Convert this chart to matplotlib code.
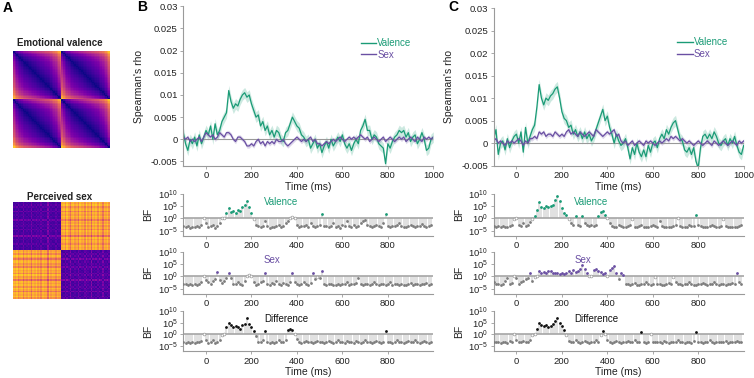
import matplotlib
matplotlib.use("Agg")
import matplotlib.pyplot as plt
import numpy as np
from matplotlib.lines import Line2D

plt.rcParams['font.family'] = ['Liberation Sans', 'DejaVu Sans']
plt.rcParams['font.size'] = 7

# ---------------- data ----------------
# time axis of the RSA curves (ms), 10 ms steps
t_line = list(range(-100, 1001, 10))

# Spearman's rho, in units of 1e-3
b_valence = [1.5, -1, -2.5, 0, -1, 0.5, -1.5, 1, -1, 0.5,
             2, 1, 3, 0, 3.5, 1, 2, 4, 5, 6,
             11, 8.5, 7, 8, 7.5, 9, 10, 10.5, 9.5, 10,
             8, 6.5, 5, 5.5, 3, 4, 2, 3, 1, 2,
             0.5, 2, 1.5, 0, -0.5, 1.5, 2, 3.5, 5, 4,
             3, 2.5, 1, 0.5, -0.5, 0, -2, -1, 0, -2,
             -1, -3, -1.5, -0.5, -2, 0, -1.5, -0.5, 0.5, -0.5,
             1, -1, -2, -1, -2.5, -1, 0, -1, 2, 3,
             4.5, 2, 2, 0, 1, 0.5, -1, -1.5, -2, -5.5,
             -1, -2, -0.5, 0.5, 1, 2, 1.5, 2, 0.5, 1.5,
             -0.5, 0.5, 1, -1, 0, 1.5, 0, -2.5, -2, 0, 0.5]
b_sex = [0.5, 0, 0.5, -0.5, 0, -0.5, 0, 0.5, -0.5, 0.5,
         1.5, 1, 0.5, 1, 0, 0.5, 1.5, 1, 0.5, 1.5,
         1.5, 1, 0, -0.5, 0.5, 0.5, 0, -0.5, -1.5, -1.5,
         -1, -1.5, -0.5, 0, -1, -0.5, -1.5, -0.5, -1, -0.5,
         -1, 0, -0.5, -0.5, 0, -1, -1.5, -1, -0.5, 0,
         0.5, 0, -0.5, 0, -0.5, 0, 0.5, -0.5, 0, -1,
         -1, -1.5, -1, -0.5, -1, -0.5, 0, -0.5, 0, 0.5,
         0, -0.5, 0, 0.5, 0, 0.5, 0, 0.5, 1, 0.5,
         0, 0.5, -0.5, 0, 0.5, 0, -0.5, 0, 0.5, -0.5,
         0, 0.5, 0, -0.5, 0, 0.5, 0, 0.5, -0.5, 0,
         0.5, 0, -0.5, 0.5, 0, -0.5, 0.5, 0, 0.5, 0, 0.5]
c_valence = [1, 3, -2.5, 0, 0.5, -1.5, 1, -1, 0.5, 1.5,
             2, 0, 2.5, -2, 3.5, 0, 1.5, 3, 4, 8,
             13, 10, 8.5, 10, 9.5, 10.5, 11, 12, 12.5, 10,
             7, 5.5, 5, 3.5, 4, 2, 3, 1.5, 2.5, 1,
             2.5, 1, 2, 0.5, 1.5, 3, 4.5, 6, 7.5, 5,
             6, 3.5, 2, 0, 2, 0.5, -0.5, 0, 1, -1,
             -3.5, -1, -2.5, 0, -2, -3, -1.5, -3, -0.5, -2,
             0, 0.5, -1, 1, 2, 1, 3, 2, 3.5, 4.5,
             5, 3, 1, 0.5, -1.5, -2, -1, -2.5, -1, -4,
             -5.5, -1, 1.5, 2, 1, 2, 1, 2.5, 1.5, 0,
             -0.5, 0.5, 1, -0.5, 1, 0, 1.5, -0.5, -2, -2.5, -0.5]
c_sex = [0.5, 1, 0, 0.5, 0, -0.5, 0.5, 0, 0.5, 0,
         0.5, 1, 0.5, -0.5, 0.5, 0, 1, 1, 1.5, 1,
         2.5, 2, 2.5, 1.5, 2, 2, 1.5, 2.5, 2, 1.5,
         2, 1.5, 2.5, 3, 2, 2.5, 2, 1.5, 2.5, 2,
         1.5, 2, 2.5, 2, 1.5, 3, 2.5, 2, 1.5, 2,
         2.5, 2, 2.5, 3, 1.5, 2, 0.5, 0, 0.5, -0.5,
         0, 0.5, -0.5, 0, 0.5, 0, -0.5, 0.5, 0, 0.5,
         0, -0.5, 0, 0.5, 0, 0.5, 1, 0.5, 1.5, 1,
         1.5, 1, 0.5, 1, 0.5, 0, 0.5, 0, -0.5, 0,
         0.5, 0, -0.5, 0, 0.5, 0, -0.5, 0.5, 0, -0.5,
         0, 0.5, 0, -0.5, 0, 0.5, 0, -0.5, 0.5, 0, 0.5]
ci_valence = 1.2  # half width of shaded band (1e-3)
ci_sex = 0.5

# Bayes factors (log10), 10 ms steps
t_bf = list(range(-100, 1000, 10))
b_bf_valence = [-3, -3.5, -3.2, -3.8, -3.5, -3.6, -3, -3.3, -2.5, 0.2,
                -2, -3.5, -3, -2.5, -3.8, -3, -2, 0, 0.3, 2,
                4, 2.5, 3, 2.2, 3.5, 3, 4.5, 5.5, 7, 4.5,
                2, -0.2, -2.5, -3, -3.5, -3.2, -1, -3, -3.8, -3.5,
                -3.6, -3, -2.5, -3.5, -3, -2, -1, 0.2, 0.4, 0.3,
                -2.5, -3.5, -3, -3.2, -2.8, -3.3, -2, -3, -3.5, -3,
                -2.5, 1.7, -3, -3.2, -3.5, -3, -2, -3.3, -3, -3.8,
                -2.5, -3, -1, -3, -3.5, -2.8, -3.4, -3, -2, -1,
                -0.5, -2.5, -3, -3.5, -3, -2.5, -3, -3.5, -2, 1.8,
                -3, -3.5, -3.2, -3, -2.5, -2, -3, -3.5, -3.3, -3,
                -2.5, -3, -3.5, -3.2, -3, -2.2, -3, -3.6, -3, -2.5]
b_bf_sex = [-3, -3.3, -3.5, -3, -3.4, -3.2, -3.5, -3, -2.5, 0.2,
            -1.5, -2.5, -3, -2, -1, 1.8, -1.5, -2.8, -2, -0.5,
            1.5, -0.5, -3, -3.2, -2.5, -3, -3.5, -2, 0.2, 0.4,
            0.1, -2.5, -3.5, -3.2, -2.5, -2, 1.2, -3, -3.5, -2.8,
            -3, -2, -3.3, -3.5, -2.8, -3, -3.4, -2.5, 1.5, -2.5,
            -3, -3.5, -3, -2.5, -3.3, -3.5, -2.8, 1.4, -1, -0.2,
            -0.5, 2, -3, -3.5, -3.2, -3, -3.6, -3.4, -3, -3.5,
            -3.2, -3, -2.5, -3.5, -3, -3.3, -2.8, -0.5, -3, -3.5,
            -3, -3.2, -3.5, -3, -2.5, -3, -3.6, -3.3, -3, -3.4,
            -3, -2.5, -3.5, -3.2, -3, -3.6, -3, -3.4, -3.5, -3,
            -2.8, -3.4, -3, -3.2, -3.5, -3, -3.3, -2.8, -3.5, -3]
b_bf_diff = [-3, -3.5, -3.2, -3.8, -3.3, -3.5, -3, -3.4, -2.8, 0.2,
             -2.5, -3.5, -3, -2.5, -3.5, -3, -2.5, -0.2, 0.3, 3,
             5, 4, 3, 3.5, 3, 2.5, 4, 4.5, 7, 4.5,
             3, 1.5, -0.5, -3, -3.2, -2.5, 1.3, -3, -3.5, -3.2,
             -3.5, -3, -2.5, -3.2, -3, -2.5, 2, 2.2, 1.8, 0.3,
             -2, -3.2, -3.5, -3, -2.8, -3.4, -3, -3.5, -3, -2.8,
             -3.2, -3, -3.5, -3, -2.8, -3.3, -3.5, -3, -2.5, -3.2,
             -3, -3.5, -2.8, -3, -3.4, -3.5, -2.6, -3, -3.5, -3.2,
             -2.5, -3, -3.3, -3.5, -3, -2.8, -3.2, -3.5, -3, 1.5,
             -3, -3.4, -3.5, -3, -2.5, -3, -3.3, -3.5, -3, -2.8,
             -3.3, -3, -2.5, -3.4, -3.5, -3, -2.8, -3.2, -3.5, -3]
c_bf_valence = [-3, -3.5, -3.2, -3.6, -3, -3.4, -3.5, -3, -2.5, -0.2,
                0.1, -2.5, -3, -2, -3, -2.5, -1.5, -0.3, 0.8, 3.5,
                6.5, 4.5, 4, 5, 4.5, 5, 5.5, 7.5, 9, 7,
                4, 2, 1.2, -0.3, -2, -2.5, 1, -2.5, -3, 1,
                -2, -2.5, -3, -2.8, -3.2, -2.5, 1, 2.5, 3, 1.5,
                0.3, -2, -3, -3.5, -3.3, -2.8, -3.2, -3.5, -3.6, -3,
                -2.8, -0.2, -3.4, -3.5, -3, -2.5, -3.3, -3.5, -3.6, -3.2,
                -2.5, -3, -3.3, -1, -3.2, -3.5, -3.4, -3.6, -3.5, -3.2,
                -2.5, 0.2, -3, -3.4, -3.5, -3.3, -2.5, -3.2, -3, 1.5,
                -2.5, -3, -3.3, -3.5, -3.4, -3, -2.5, -3.2, -3.5, -3.3,
                -3, -0.3, -3.2, -3.5, -3.3, -3.6, -3.4, -3.5, -3.2, -2.5]
c_bf_sex = [-2.5, -3, -3.2, -3.5, -3, -2, -0.5, -3, -2.8, 0.2,
            -0.5, -3, -2.5, -2, -1, -0.5, 1.5, -2, -0.3, 0.2,
            2, 1.5, 1.8, 1.2, 2, 2.2, 1.5, 1.2, 1.5, 1,
            1.2, 1, 1.5, 2, 1.3, 2.5, 1.8, 2.2, 3, 4.5,
            2.8, 1.5, 0.3, 0.2, 2.5, 3, 2, 1.8, 1, 1.5,
            0.2, 2.5, 3.5, 4, 1.5, -1.2, 1.5, 0.5, -3, -3.3,
            -3.5, -3, -2.8, -3.4, -3.5, -3.2, -3, -2.5, -3.3, -3.5,
            -3.3, -0.3, -3, -3.2, -3.5, -3.4, -3, -2.8, -3.2, -0.3,
            -2.5, -3, -3.2, -3.5, -3.3, -3, -2.5, -3, -3.4, -3.5,
            -3.2, -3, -2.8, -3.3, -3.5, -3.2, -3, -2.5, -3.3, -3.5,
            -3, -3.3, -3.5, -3.2, -3, -2.8, -3.3, 1.5, -2.5, -3]
c_bf_diff = [-3, -3.4, -3.2, -3.5, -3, -3.3, -3.5, -2.8, -3, 0.1,
             -2.5, -3, -3.4, -2.8, -3.2, -3, -2.5, -0.3, 0.2, 2.5,
             5, 4, 3.5, 3.8, 3.3, 3.5, 4.5, 5.5, 7, 5,
             3.5, 2, -0.3, -2.8, -3, -3.3, -2.5, -3.2, -3.5, -3,
             -2.8, -3.2, -3.5, -3, -3.3, -2.5, -3, -0.2, 1.5, 0.3,
             -2.5, -3.2, -3.5, -3, -2.8, -3.4, -3.6, -3.2, -3, -2.8,
             -3.3, -3, -2.5, -3.4, -3.2, 1.2, -3, -3.5, -3.2, 0.2,
             -3, -3.4, -3.3, -3, -3.5, -2.8, -3.2, -3.5, -3, -3.3,
             -3, -2.5, -3.2, -3.4, -3.5, -3, -3.3, -3.5, -2.8, 1.2,
             -3, -3.2, -3.5, -3.3, -3, -2.5, -3.2, -3.5, -3.4, -3,
             -3.3, -3, -2.8, -3.5, -3.2, -3, -3.4, -2.6, -3.3, -3]

# model RDM inputs (stimulus ratings)
valence_ratings = [1.2, 1.7, 2.1, 2.4, 2.6, 2.8, 3.0, 3.1, 3.2, 3.3,
                   3.4, 3.5, 3.6, 3.7, 3.8, 3.9, 4.0, 4.1, 4.2, 4.3,
                   4.4, 4.5, 4.6, 4.8, 5.0, 5.2, 5.4, 5.7, 6.1, 6.6]
sex_female = [0.08, 0.12, 0.05, 0.18, 0.10, 0.07, 0.22, 0.09, 0.14, 0.06,
              0.11, 0.25, 0.08, 0.13, 0.05, 0.16, 0.09, 0.20, 0.07, 0.12,
              0.10, 0.28, 0.06, 0.15, 0.09, 0.11, 0.19, 0.08, 0.13, 0.10]
sex_male = [0.88, 0.92, 0.80, 0.95, 0.85, 0.72, 0.90, 0.93, 0.83, 0.89,
            0.76, 0.94, 0.87, 0.91, 0.79, 0.96, 0.84, 0.90, 0.70, 0.92,
            0.86, 0.93, 0.81, 0.95, 0.88, 0.74, 0.91, 0.87, 0.94, 0.82]

GREEN = '#1a9b76'
PURPLE = '#6a4fa3'
SPINE = '#9a9a9a'
TXT = '#222222'

W, H = 754, 378
fig = plt.figure(figsize=(W / 100, H / 100), dpi=100)


def ax_px(x0, y0, x1, y1):
    # pixel box (top-left origin) -> axes
    return fig.add_axes([x0 / W, 1 - y1 / H, (x1 - x0) / W, (y1 - y0) / H])


def style(ax):
    for s in ['top', 'right']:
        ax.spines[s].set_visible(False)
    for s in ['left', 'bottom']:
        ax.spines[s].set_color(SPINE)
        ax.spines[s].set_linewidth(0.8)
    ax.tick_params(direction='out', length=2, width=0.6, color=SPINE,
                   labelsize=6.8, labelcolor=TXT, pad=2)


# ---------------- A: model RDMs ----------------
v = np.array(valence_ratings + valence_ratings)
rdm_val = np.abs(v[:, None] - v[None, :])
s = np.array(sex_female + sex_male)
rdm_sex = np.abs(s[:, None] - s[None, :])

axv = ax_px(12.7, 51, 109.3, 148)
axv.imshow(rdm_val, cmap='plasma', vmin=0, vmax=rdm_val.max() / 0.88,
           interpolation='nearest', aspect='auto')
axv.axis('off')
fig.text(60 / W, 1 - 43 / H, 'Emotional valence', ha='center', va='center',
         fontsize=7, fontweight='bold', color=TXT)

axs = ax_px(12.7, 202, 109.3, 299)
axs.imshow(rdm_sex, cmap='plasma', vmin=-0.1, vmax=1.0,
           interpolation='nearest', aspect='auto')
axs.axis('off')
fig.text(60 / W, 1 - 197 / H, 'Perceived sex', ha='center', va='center',
         fontsize=7, fontweight='bold', color=TXT)

fig.text(3 / W, 1 - 8 / H, 'A', ha='left', va='center', fontsize=10, fontweight='bold')
fig.text(137 / W, 1 - 7 / H, 'B', ha='left', va='center', fontsize=10, fontweight='bold')
fig.text(448 / W, 1 - 7 / H, 'C', ha='left', va='center', fontsize=10, fontweight='bold')


# ---------------- time-course panels ----------------
def rho_panel(box, val, sex, ylo, leg_xy):
    ax = ax_px(*box)
    style(ax)
    t = np.array(t_line)
    for y, c, ci in [(val, GREEN, ci_valence), (sex, PURPLE, ci_sex)]:
        y = np.array(y) * 1e-3
        ax.fill_between(t, y - ci * 1e-3, y + ci * 1e-3, color=c, alpha=0.22, lw=0)
    ax.axhline(0, color='#999999', lw=0.8, zorder=1)
    ax.plot(t, np.array(val) * 1e-3, color=GREEN, lw=0.9)
    ax.plot(t, np.array(sex) * 1e-3, color=PURPLE, lw=0.9)
    ax.set_xlim(-100, 1000)
    ax.set_ylim(ylo, 0.03)
    ax.set_xticks([0, 200, 400, 600, 800, 1000])
    ax.set_yticks([-0.005, 0, 0.005, 0.01, 0.015, 0.02, 0.025, 0.03])
    ax.set_yticklabels(['-0.005', '0', '0.005', '0.01', '0.015', '0.02', '0.025', '0.03'])
    ax.set_xlabel('Time (ms)', fontsize=7.5, color=TXT, labelpad=1)
    ax.set_ylabel("Spearman's rho", fontsize=7.5, color=TXT, labelpad=5)
    handles = [Line2D([], [], color=GREEN, lw=1), Line2D([], [], color=PURPLE, lw=1)]
    leg = ax.legend(handles, ['Valence', 'Sex'], loc='upper left', bbox_to_anchor=leg_xy,
                    frameon=False, fontsize=7, handlelength=1.6, handletextpad=0.1,
                    borderpad=0, borderaxespad=0, labelspacing=0.15)
    for txt, c in zip(leg.get_texts(), [GREEN, PURPLE]):
        txt.set_color(c)
    return ax


rho_panel((183.3, 6.3, 433.3, 165.9), b_valence, b_sex, -0.006, (0.71, 0.80))
rho_panel((493.7, 8, 743.7, 165.7), c_valence, c_sex, -0.005, (0.734, 0.813))


# ---------------- Bayes factor panels ----------------
def bf_panel(box, logbf, color, label, last):
    ax = ax_px(*box)
    style(ax)
    t = np.array(t_bf)
    bf = 10.0 ** np.array(logbf)
    ax.vlines(t, 1, bf, color='#dcdcdc', lw=1.2, zorder=1)
    ax.axhline(1, color='#a5a5a5', lw=1.2, zorder=2)
    lg = np.array(logbf)
    hi = lg >= 0.5
    lo = lg <= -0.5
    mid = ~hi & ~lo
    ax.scatter(t[lo], bf[lo], s=4, color='#7d7d7d', lw=0, zorder=3)
    ax.scatter(t[mid], bf[mid], s=4, facecolor='white', edgecolor='#9a9a9a', lw=0.5, zorder=3)
    ax.scatter(t[hi], bf[hi], s=4, color=color, lw=0, zorder=4)
    ax.set_yscale('log')
    ax.set_ylim(1e-7, 1e10)
    ax.set_yticks([1e-5, 1e0, 1e5, 1e10])
    ax.minorticks_off()
    ax.set_xlim(-100, 1000)
    ax.set_xticks([0, 200, 400, 600, 800])
    ax.set_ylabel('BF', fontsize=7.5, color=TXT, labelpad=3)
    ax.text(255, 10 ** 6.5, label, color=color, fontsize=7, ha='left', va='center')
    if last:
        ax.set_xlabel('Time (ms)', fontsize=7.5, color=TXT, labelpad=1)
    return ax


bf_rows = [(193.5, 235.7), (251.7, 293.5), (310.8, 351.0)]
for (y0, y1), d, c, lab, last in zip(bf_rows, [b_bf_valence, b_bf_sex, b_bf_diff],
                                     [GREEN, PURPLE, '#111111'],
                                     ['Valence', 'Sex', 'Difference'], [0, 0, 1]):
    bf_panel((183.3, y0, 433.3, y1), d, c, lab, last)
for (y0, y1), d, c, lab, last in zip(bf_rows, [c_bf_valence, c_bf_sex, c_bf_diff],
                                     [GREEN, PURPLE, '#111111'],
                                     ['Valence', 'Sex', 'Difference'], [0, 0, 1]):
    bf_panel((493.7, y0, 743.7, y1), d, c, lab, last)

fig.savefig('out.png', dpi=100)
